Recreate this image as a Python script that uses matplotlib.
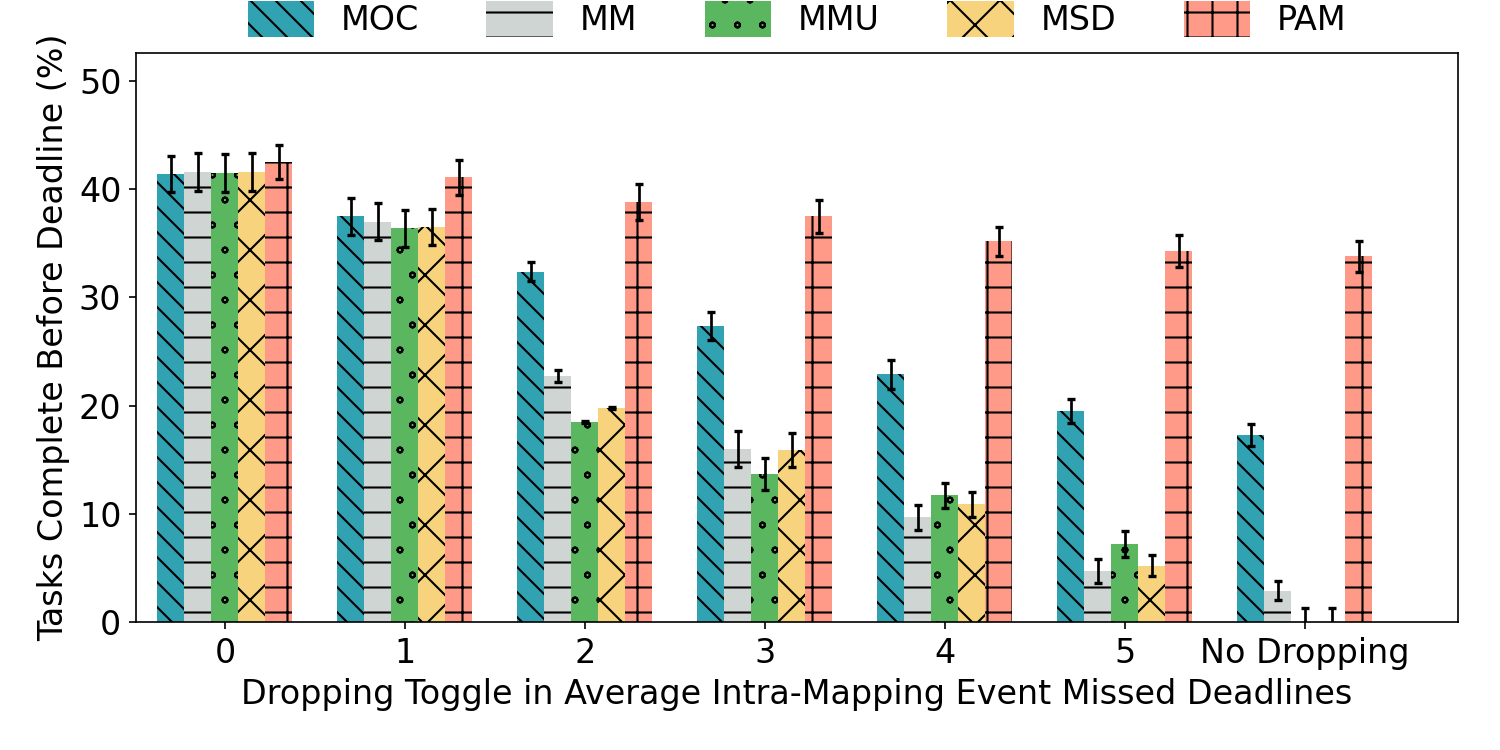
import matplotlib
matplotlib.use("Agg")
import matplotlib.pyplot as plt
import matplotlib.hatch
import numpy as np

# smaller dots for the 'o' hatch, as in the original
matplotlib.hatch.SmallCircles.size = 0.1

# dropping toggle groups
groups = ['0', '1', '2', '3', '4', '5', 'No Dropping']
methods = ['MOC', 'MM', 'MMU', 'MSD', 'PAM']

# tasks complete before deadline (%)
moc = [41.4, 37.5, 32.4, 27.4, 22.9, 19.5, 17.3]
mm = [41.6, 37.0, 22.7, 16.0, 9.7, 4.7, 2.9]
mmu = [41.5, 36.4, 18.5, 13.7, 11.7, 7.2, 0.0]
msd = [41.6, 36.5, 19.8, 15.9, 10.9, 5.2, 0.0]
pam = [42.5, 41.1, 38.8, 37.5, 35.2, 34.3, 33.8]

# error bar half widths
moc_err = [1.65, 1.7, 0.9, 1.3, 1.35, 1.15, 1.0]
mm_err = [1.75, 1.7, 0.55, 1.7, 1.15, 1.1, 0.85]
mmu_err = [1.75, 1.7, 0.1, 1.5, 1.15, 1.2, 1.25]
msd_err = [1.75, 1.65, 0.1, 1.6, 1.15, 0.95, 1.25]
pam_err = [1.55, 1.6, 1.65, 1.5, 1.35, 1.45, 1.45]

series = [moc, mm, mmu, msd, pam]
errors = [moc_err, mm_err, mmu_err, msd_err, pam_err]
colors = ['#31A2B2', '#CFD5D2', '#5AB75F', '#F6D37C', '#FE9A87']
hatches = ['\\\\', '-', 'o', 'x', '+']

fig = plt.figure(figsize=(10, 5), dpi=150)
ax = fig.add_axes([136/1500., 128/750., 1322/1500., 569/750.])

x = np.arange(len(groups))
w = 0.15
for i in range(len(methods)):
    ax.bar(x + (i - 2)*w, series[i], w, yerr=errors[i], color=colors[i],
           hatch=hatches[i], label=methods[i],
           error_kw=dict(ecolor='black', elinewidth=1.3, capthick=1.6, capsize=2))

ax.set_xlim(-0.494, 6.85)
ax.set_ylim(0, 52.6)
ax.set_yticks([0, 10, 20, 30, 40, 50])
ax.set_xticks(x)
ax.set_xticklabels(groups)
ax.tick_params(labelsize=16)
ax.set_xlabel('Dropping Toggle in Average Intra-Mapping Event Missed Deadlines', fontsize=16)
ax.set_ylabel('Tasks Complete Before Deadline (%)', fontsize=16)

fig.legend(loc='center', bbox_to_anchor=(797/1500., 1 - 19/750.), ncol=5,
           frameon=False, fontsize=16, handlelength=2.0, handleheight=1.3,
           columnspacing=2.02)

fig.savefig('out.png', dpi=150)
plt.close(fig)
